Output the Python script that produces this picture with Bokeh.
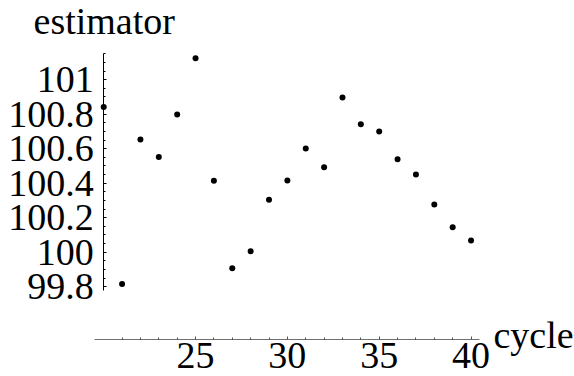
from bokeh.plotting import figure
from bokeh.models import Range1d, LinearAxis, FixedTicker, Label, ColumnDataSource
from bokeh.embed import file_html
from bokeh.resources import INLINE

cycle = [20, 21, 22, 23, 24, 25, 26, 27, 28, 29, 30, 31, 32, 33, 34, 35, 36, 37, 38, 39, 40]
estimator = [100.842, 99.815, 100.653, 100.552, 100.798, 101.125, 100.414, 99.907, 100.006,
             100.304, 100.416, 100.601, 100.493, 100.897, 100.742, 100.700, 100.539, 100.450,
             100.277, 100.145, 100.068]

x_ticks = [25, 30, 35, 40]
x_minor_ticks = [21, 22, 23, 24, 26, 27, 28, 29, 31, 32, 33, 34, 36, 37, 38, 39]
y_ticks = [99.8, 100.0, 100.2, 100.4, 100.6, 100.8, 101.0]
y_tick_labels = ["99.8", "100", "100.2", "100.4", "100.6", "100.8", "101"]
y_minor_ticks = [99.85, 99.9, 99.95, 100.05, 100.1, 100.15, 100.25, 100.3, 100.35,
                 100.45, 100.5, 100.55, 100.65, 100.7, 100.75, 100.85, 100.9, 100.95,
                 101.05, 101.1, 101.15]

FONT = "Liberation Serif"
FS = "38px"

W, H = 574, 376
p = figure(width=W, height=H,
           x_range=Range1d(14.381, 20 + (W - 103.2) / 18.367),
           y_range=Range1d(100 - (H - 251.7) / 172.5, 101.4591),
           x_axis_type=None, y_axis_type=None,
           min_border_left=0, min_border_right=0, min_border_top=0, min_border_bottom=0,
           outline_line_color=None, toolbar_location=None, output_backend="svg")

src = ColumnDataSource(data=dict(x=cycle, y=estimator))
p.scatter("x", "y", source=src, size=6, fill_color="black", line_color=None)

xaxis = LinearAxis(fixed_location=99.496, bounds=(19.5, 40.46),
                   ticker=FixedTicker(ticks=x_ticks, minor_ticks=x_minor_ticks))
xaxis.axis_line_color = "#707070"
xaxis.major_tick_in = 3
xaxis.major_tick_out = 0
xaxis.minor_tick_in = 2
xaxis.minor_tick_out = 0
xaxis.major_tick_line_color = "#505050"
xaxis.minor_tick_line_color = "#505050"
xaxis.major_label_text_font = FONT
xaxis.major_label_text_font_size = FS
xaxis.major_label_text_color = "black"
xaxis.major_label_standoff = 4
p.add_layout(xaxis, "below")

yaxis = LinearAxis(fixed_location=20, bounds=(99.78, 101.152),
                   ticker=FixedTicker(ticks=y_ticks, minor_ticks=y_minor_ticks))
yaxis.major_label_overrides = {t: s for t, s in zip(y_ticks, y_tick_labels)}
yaxis.axis_line_color = "black"
yaxis.major_tick_in = 3
yaxis.major_tick_out = 0
yaxis.minor_tick_in = 2
yaxis.minor_tick_out = 0
yaxis.major_label_text_font = FONT
yaxis.major_label_text_font_size = FS
yaxis.major_label_text_color = "black"
yaxis.major_label_standoff = 10
p.add_layout(yaxis, "left")

p.add_layout(Label(x=16.18, y=101.338, text="estimator", text_font=FONT,
                   text_font_size=FS, text_color="black", text_baseline="alphabetic"))
p.add_layout(Label(x=41.22, y=99.518, text="cycle", text_font=FONT,
                   text_font_size=FS, text_color="black", text_baseline="alphabetic"))

open("out.html", "w").write(file_html(p, INLINE))
